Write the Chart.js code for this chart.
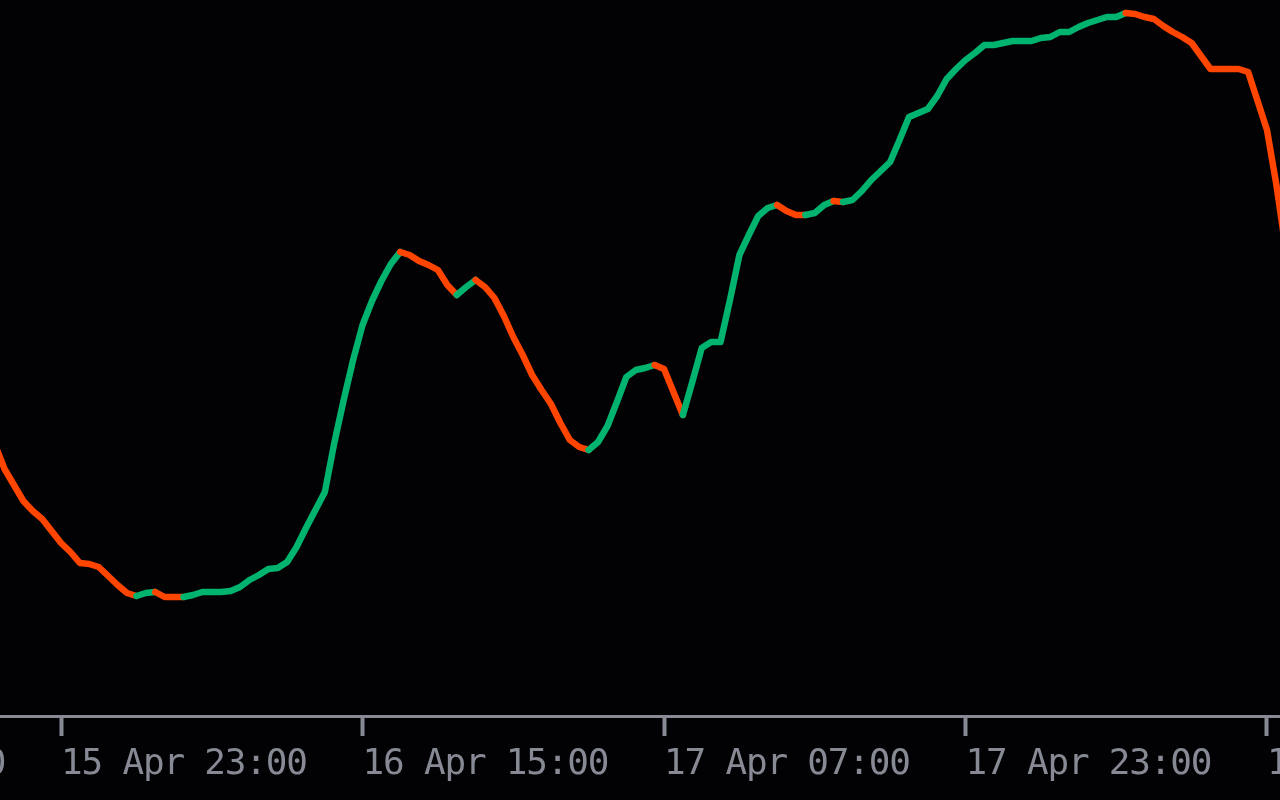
<!DOCTYPE html>
<html>
<head>
<meta charset="utf-8">
<title>Price line</title>
<script src="https://cdn.jsdelivr.net/npm/chart.js@4.4.1/dist/chart.umd.min.js"></script>
<style>
    html, body { margin: 0; padding: 0; background: #020204; overflow: hidden; }
    canvas { display: block; }
</style>
</head>
<body>
<canvas id="chart" width="1280" height="800"></canvas>
<script>
// Hours counted from 15 Apr 00:00, one sample every 30 min
const startHour = 19.5;
const stepHours = 0.5;

// Line values (no y axis shown, arbitrary units)
const values = [
    27.1, 24.7, 23.1, 21.5, 20.5, 19.7, 18.5, 17.3, 16.4, 15.3,
    15.2, 14.9, 14.0, 13.1, 12.3, 12.0, 12.3, 12.4, 11.9, 11.9,
    11.9, 12.1, 12.4, 12.4, 12.4, 12.5, 12.9, 13.6, 14.1, 14.7,
    14.8, 15.4, 16.9, 18.8, 20.6, 22.4, 27.3, 31.6, 35.6, 39.1,
    41.5, 43.5, 45.2, 46.4, 46.1, 45.5, 45.1, 44.6, 43.1, 42.1,
    42.9, 43.6, 42.9, 41.8, 40.0, 37.9, 36.1, 34.1, 32.6, 31.2,
    29.3, 27.6, 26.9, 26.6, 27.4, 29.0, 31.4, 33.9, 34.6, 34.8,
    35.1, 34.7, 32.4, 30.1, 33.4, 36.8, 37.4, 37.4, 41.6, 46.1,
    48.1, 50.0, 50.8, 51.1, 50.5, 50.1, 50.1, 50.3, 51.1, 51.5,
    51.4, 51.6, 52.5, 53.6, 54.5, 55.4, 57.6, 59.9, 60.3, 60.7,
    62.0, 63.7, 64.7, 65.6, 66.3, 67.1, 67.1, 67.3, 67.5, 67.5,
    67.5, 67.8, 67.9, 68.4, 68.4, 68.9, 69.3, 69.6, 69.9, 69.9,
    70.3, 70.2, 69.9, 69.7, 69.0, 68.4, 67.9, 67.3, 66.0, 64.7,
    64.7, 64.7, 64.7, 64.4, 61.5, 58.6, 53.1, 46.6
];

// Axis tick positions (hours from 15 Apr 00:00) and their labels
const tickHours = [7, 23, 39, 55, 71, 87];
const tickLabels = ['15 Apr 07:00', '15 Apr 23:00', '16 Apr 15:00', '17 Apr 07:00', '17 Apr 23:00', '18 Apr 15:00'];

const UP = '#00b36e';
const DOWN = '#ff4500';
const AXIS = '#878a94';

const points = values.map((v, i) => ({ x: startHour + i * stepHours, y: v }));

// Color each segment by direction; flat pieces keep the previous direction
function trendColor(ctx) {
    let i = ctx.p1DataIndex;
    while (i > 0) {
        const d = values[i] - values[i - 1];
        if (d > 0) return UP;
        if (d < 0) return DOWN;
        i--;
    }
    return UP;
}

const ctx = document.getElementById('chart').getContext('2d');
new Chart(ctx, {
    type: 'line',
    data: {
        datasets: [{
            data: points,
            borderWidth: 6.5,
            borderColor: UP,
            borderCapStyle: 'round',
            borderJoinStyle: 'round',
            pointRadius: 0,
            tension: 0,
            segment: { borderColor: trendColor }
        }]
    },
    options: {
        responsive: false,
        animation: false,
        devicePixelRatio: 1,
        layout: { padding: 0 },
        plugins: {
            legend: { display: false },
            tooltip: { enabled: false }
        },
        scales: {
            x: {
                type: 'linear',
                min: 19.76,
                max: 87.69,
                border: { display: true, color: AXIS, width: 3 },
                grid: {
                    drawOnChartArea: false,
                    drawTicks: true,
                    tickLength: 20,
                    tickWidth: 4,
                    tickColor: AXIS
                },
                afterBuildTicks: (scale) => {
                    scale.ticks = tickHours.map(v => ({ value: v }));
                },
                afterFit: (scale) => {
                    scale.height = 84;
                    scale.paddingLeft = 0;
                    scale.paddingRight = 0;
                },
                ticks: {
                    autoSkip: false,
                    maxRotation: 0,
                    minRotation: 0,
                    align: 'start',
                    padding: 7,
                    color: AXIS,
                    font: { family: '"DejaVu Sans Mono", monospace', size: 36 },
                    callback: (value) => tickLabels[tickHours.indexOf(value)] || ''
                }
            },
            y: {
                display: false,
                min: 0,
                max: 71.6
            }
        }
    },
    plugins: [{
        id: 'spacing',
        beforeDraw: (chart) => { chart.ctx.letterSpacing = '-1.2px'; }
    }]
});
</script>
</body>
</html>
